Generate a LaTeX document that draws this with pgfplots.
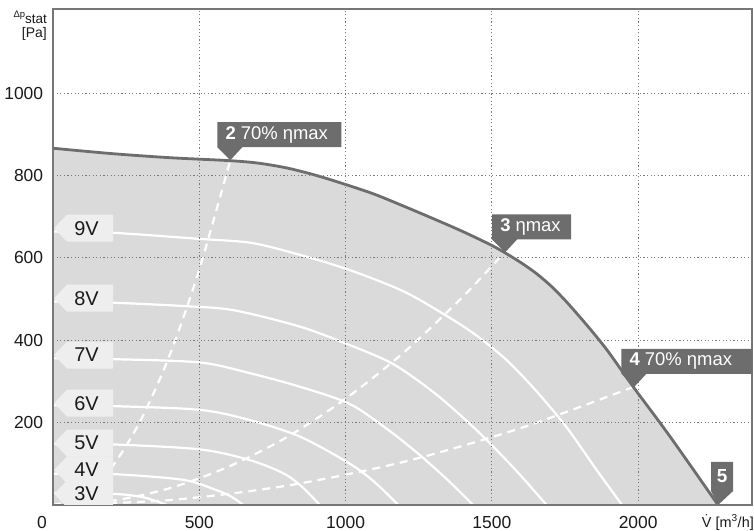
\documentclass[border=0pt]{standalone}
\usepackage{pgfplots}
\pgfplotsset{compat=1.18}
\usepackage{fontspec}
\setmainfont{Liberation Sans}
\definecolor{envc}{HTML}{6D6D6D}
\definecolor{fillc}{HTML}{DADADA}
\definecolor{labc}{HTML}{EEEEEE}
\definecolor{gridc}{HTML}{7A7A7A}
\definecolor{axc}{HTML}{777777}
\definecolor{txtc}{HTML}{1A1A1A}
\newcommand\vlab[2]{%
  \fill[labc] (#1) ++(1bp,0) -- ++(13bp,13.5bp) -- ++(46bp,0) -- ++(0,-27bp) -- ++(-46bp,0) -- cycle;
  \node[font=\fontsize{20}{22}\selectfont, text=txtc, inner sep=0pt, xshift=33.5bp] at (#1) {#2};}
\newcommand\mk[3]{%
  \fill[envc] (#1) -- ++(-13bp,13bp) -- ++(0,25bp) -- ++(#2,0) -- ++(0,-25bp) -- ++(-#2+25bp,0) -- cycle;
  \node[anchor=west, text=white, font=\fontsize{18.5}{20}\selectfont, inner sep=0pt, xshift=-5bp, yshift=25.5bp] at (#1) {#3};}
\begin{document}
\begin{tikzpicture}
\begin{axis}[
  scale only axis, width=699bp, height=496bp,
  xmin=0, xmax=2389, ymin=0, ymax=1204,
  xtick={500,1000,1500,2000}, ytick={200,400,600,800,1000},
  major tick length=0pt,
  grid=major,
  major grid style={gridc, line width=0.9bp, dash pattern=on 1.2bp off 2.4bp},
  axis line style={axc, line width=1.6bp},
  axis on top,
  /pgf/number format/assume math mode=true,
  /pgf/number format/1000 sep={},
  ticklabel style={font=\fontsize{17.5}{20}\selectfont, text=txtc, inner sep=0pt},
  xticklabel style={anchor=north, yshift=-11bp},
  yticklabel style={anchor=east, xshift=-9.7bp},
]
% envelope fill
\addplot[fill=fillc, draw=none, smooth, tension=0.5] coordinates {
(0,866) (200,853) (400,843) (600,836) (700,830) (800,818) (900,800) (1000,778) (1100,754) (1200,725) (1300,695) (1400,664) (1500,630) (1550,610) (1600,588) (1650,563) (1700,533) (1750,497) (1800,457) (1850,415) (1900,370) (1983,287) (2109,166) (2273,0)} \closedcycle;
% fan curves
\addplot[white, line width=2.2bp, smooth, tension=0.5] coordinates {
(0,664) (200,661) (500,646) (680,636) (850,606) (1015,570) (1200,518) (1357,454) (1450,410) (1550,352) (1650,278) (1756,188) (1858,85) (1945,0)};
\addplot[white, line width=2.2bp, smooth, tension=0.5] coordinates {
(0,494) (206,491) (445,483) (616,473) (844,433) (1015,388) (1163,342) (1300,274) (1400,213) (1482,158) (1585,82) (1687,0)};
\addplot[white, line width=2.2bp, smooth, tension=0.5] coordinates {
(0,356) (206,354) (502,346) (673,320) (844,287) (1015,245) (1150,180) (1254,121) (1350,60) (1436,0)};
\addplot[white, line width=2.2bp, smooth, tension=0.5] coordinates {
(0,242) (206,240) (502,231) (673,206) (844,166) (1015,100) (1100,55) (1180,0)};
\addplot[white, line width=2.2bp, smooth, tension=0.5] coordinates {
(0,148) (206,147) (502,135) (673,109) (787,77) (850,45) (912,0)};
\addplot[white, line width=2.2bp, smooth, tension=0.5] coordinates {
(0,76) (206,75) (445,61) (559,36) (610,20) (650,0)};
\addplot[white, line width=2.2bp, smooth, tension=0.5] coordinates {
(0,29) (206,27) (300,20) (350,10) (389,0)};
% efficiency lines
\addplot[white, line width=2.2bp, dash pattern=on 8bp off 6bp, smooth] coordinates {
(0,0) (100,23) (200,91) (300,206) (400,366) (500,572) (606,837)};
\addplot[white, line width=2.2bp, dash pattern=on 8bp off 6bp, smooth] coordinates {
(0,0) (200,10) (400,41) (600,93) (800,165) (1000,258) (1200,371) (1400,505) (1545,615)};
\addplot[white, line width=2.2bp, dash pattern=on 8bp off 6bp, smooth] coordinates {
(0,0) (400,12) (800,47) (1200,105) (1600,187) (1985,287)};
% envelope line
\addplot[envc, line width=2.8bp, smooth, tension=0.5] coordinates {
(0,866) (200,853) (400,843) (600,836) (700,830) (800,818) (900,800) (1000,778) (1100,754) (1200,725) (1300,695) (1400,664) (1500,630) (1550,610) (1600,588) (1650,563) (1700,533) (1750,497) (1800,457) (1850,415) (1900,370) (1983,287) (2109,166) (2273,0)};
\coordinate (m2) at (axis cs:606,837);
\coordinate (m3) at (axis cs:1545,613);
\coordinate (m4) at (axis cs:1987,287);
\coordinate (m5) at (axis cs:2273,0);
\coordinate (v9) at (axis cs:0,672);
\coordinate (v8) at (axis cs:0,502);
\coordinate (v7) at (axis cs:0,364);
\coordinate (v6) at (axis cs:0,247);
\coordinate (v5) at (axis cs:0,150);
\coordinate (v4) at (axis cs:0,85);
\coordinate (v3) at (axis cs:0,27);
\end{axis}
\begin{scope}
\clip (current axis.south west) rectangle (current axis.north east);
\vlab{v9}{9V}
\vlab{v8}{8V}
\vlab{v7}{7V}
\vlab{v6}{6V}
\vlab{v5}{5V}
\vlab{v4}{4V}
\vlab{v3}{3V}
\end{scope}
\mk{m2}{124bp}{\textbf{2} 70\% ηmax}
\mk{m3}{79bp}{\textbf{3} ηmax}
\mk{m4}{131bp}{\textbf{4} 70\% ηmax}
\fill[envc] (m5) -- ++(-7bp,14bp) -- ++(0,29bp) -- ++(22bp,0) -- ++(0,-29bp) -- cycle;
\node[text=white, font=\fontsize{19}{20}\selectfont\bfseries, inner sep=0pt, xshift=4bp, yshift=29bp] at (m5) {5};
% axis labels
\node[anchor=base east, inner sep=0pt, text=txtc] at ([xshift=-6bp, yshift=-15bp]current axis.north west)
  {\raisebox{6.5bp}{\fontsize{9.5}{10}\selectfont Δp}\fontsize{13.5}{14}\selectfont stat};
\node[anchor=base east, inner sep=0pt, text=txtc, font=\fontsize{14}{15}\selectfont] at ([xshift=-6bp, yshift=-29bp]current axis.north west) {[Pa]};
\node[anchor=base east, inner sep=0pt, text=txtc, font=\fontsize{14.5}{15}\selectfont] at ([xshift=2bp, yshift=-22bp]current axis.south east) {\.{V} [m\textsuperscript{3}/h]};
\node[anchor=base, inner sep=0pt, text=txtc, font=\fontsize{17.5}{20}\selectfont] at ([xshift=-11bp, yshift=-23bp]current axis.south west) {0};
\pgfresetboundingbox
\useasboundingbox ([xshift=-53bp, yshift=-26bp]current axis.south west) rectangle ([xshift=2bp, yshift=9bp]current axis.north east);
\end{tikzpicture}
\end{document}
